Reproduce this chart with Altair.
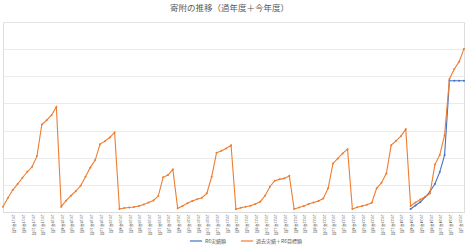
import altair as alt
import pandas as pd

FONT = "Noto Sans CJK JP"

# Fiscal years (April - March), monthly categories
fiscal_years = [2017, 2018, 2019, 2020, 2021, 2022, 2023, 2024]
fiscal_months = [4, 5, 6, 7, 8, 9, 10, 11, 12, 1, 2, 3]
months = [
    f"{fy if m >= 4 else fy + 1}年{m}月" for fy in fiscal_years for m in fiscal_months
]

# Cumulative donations per fiscal year: past results + R6 target (orange)
past_plus_target = [
    195, 515, 809, 1029, 1261, 1482, 1665, 2059, 3224, 3382, 3566, 3871,   # FY2017
    195, 415, 599, 772, 967, 1298, 1643, 1912, 2500, 2610, 2746, 2930,     # FY2018
    110, 147, 165, 184, 221, 276, 349, 423, 588, 1276, 1360, 1570,         # FY2019
    136, 221, 320, 404, 467, 526, 688, 1298, 2180, 2254, 2342, 2463,       # FY2020
    99, 158, 195, 232, 294, 379, 599, 930, 1151, 1202, 1239, 1335,         # FY2021
    110, 165, 221, 294, 349, 404, 496, 871, 1790, 1974, 2158, 2316,        # FY2022
    110, 173, 221, 268, 342, 871, 1077, 1423, 2463, 2621, 2794, 3051,      # FY2023
    221, 349, 460, 563, 688, 1746, 2096, 2831, 4901, 5268, 5540, 6018,     # FY2024
]

# R6 (FY2024) actual cumulative donations (blue)
r6_actual = [110, 239, 368, 551, 754, 1029, 1470, 2096, 4835, 4835, 4835, 4835]

series_actual = "R6実績額"
series_target = "過去実績＋R6目標額"
series_names = [series_actual, series_target]
series_colors = ["#4472C4", "#ED7D31"]

df_target = pd.DataFrame({"month": months, "value": past_plus_target, "series": series_target})
df_actual = pd.DataFrame({"month": months[-12:], "value": r6_actual, "series": series_actual})

color = alt.Color(
    "series:N",
    scale=alt.Scale(domain=series_names, range=series_colors),
    legend=alt.Legend(
        title=None,
        orient="none",
        direction="horizontal",
        legendX=186,
        legendY=212,
        symbolType="stroke",
        symbolSize=150,
        symbolStrokeWidth=1.2,
        labelFontSize=5,
        labelColor="#595959",
        labelFont=FONT,
        columnPadding=12,
        labelOffset=2,
    ),
)

x = alt.X(
    "month:N",
    sort=months,
    scale=alt.Scale(type="point", padding=0, domain=months),
    axis=alt.Axis(
        title=None,
        values=months[::2],
        labelAngle=90,
        labelFontSize=4,
        labelColor="#595959",
        labelFont=FONT,
        labelPadding=2,
        ticks=False,
        domainColor="#d9d9d9",
        domainWidth=0.8,
        grid=False,
    ),
)

y = alt.Y(
    "value:Q",
    scale=alt.Scale(domain=[0, 7000], nice=False),
    axis=alt.Axis(
        title=None,
        values=[0, 1000, 2000, 3000, 4000, 5000, 6000, 7000],
        labels=False,
        ticks=False,
        domain=False,
        gridColor="#e6e6e6",
        gridWidth=0.8,
    ),
)

point_def = alt.OverlayMarkDef(filled=True, size=4)

actual_line = (
    alt.Chart(df_actual)
    .mark_line(strokeWidth=1.1, point=point_def)
    .encode(x=x, y=y, color=color)
)

target_line = (
    alt.Chart(df_target)
    .mark_line(strokeWidth=1.1, point=point_def)
    .encode(x=x, y=y, color=color)
)

chart = (
    alt.layer(actual_line, target_line)
    .properties(
        width=461,
        height=190,
        title=alt.TitleParams(
            "寄附の推移（過年度＋今年度）",
            fontSize=8.5,
            font=FONT,
            color="#595959",
            fontWeight="normal",
            anchor="middle",
            offset=10,
            dx=-4,
        ),
        autosize=alt.AutoSizeParams(type="none"),
        padding={"left": 3, "top": 22, "right": 6, "bottom": 38},
    )
    .configure_view(stroke=None)
    .configure(background="white")
)

chart.save("out.html", embed_options={"renderer": "svg", "actions": False})
